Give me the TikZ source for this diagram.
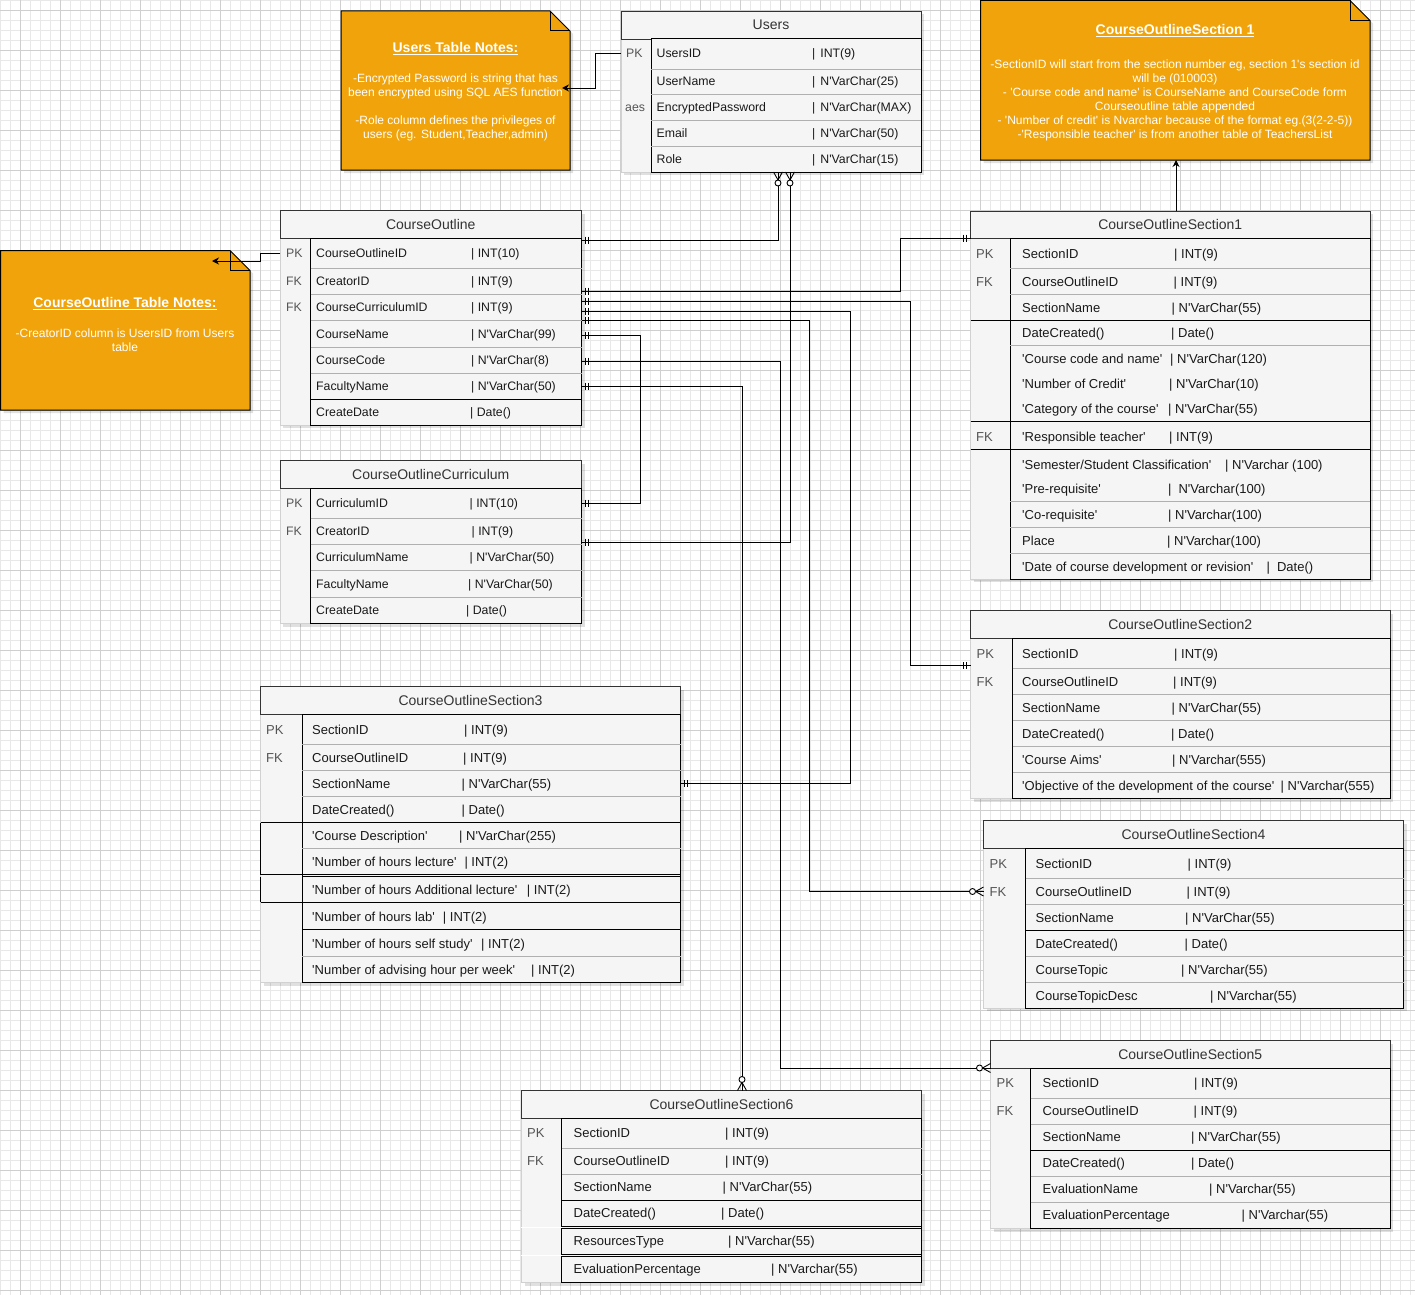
\documentclass[tikz,border=0pt]{standalone}
\usepackage{fontspec}
\newfontfamily\arialf{Liberation Sans}
\usetikzlibrary{arrows.meta}
\definecolor{notebg}{HTML}{F0A30A}
\definecolor{tblfill}{HTML}{F5F5F5}
\definecolor{hdrcol}{HTML}{333333}
\definecolor{keycol}{HTML}{555555}
\definecolor{sepcol}{HTML}{B0B0B0}
\definecolor{gminor}{HTML}{E8E8E8}
\definecolor{gmajor}{HTML}{CFCFCF}
\newcounter{rn}
\tikzset{
  rowA/.style={font=\arialf\fontsize{12.3}{14}\selectfont, text=black!90, inner sep=0pt, anchor=west, text height=8.8pt, text depth=0pt},
  rowB/.style={font=\arialf\fontsize{13}{15}\selectfont, text=black!90, inner sep=0pt, anchor=west, text height=9.3pt, text depth=0pt},
  rowtext/.style={rowA},
  keytext/.style={rowtext, text=keycol},
  hdrtext/.style={font=\arialf\fontsize{14}{16}\selectfont, text=hdrcol, inner sep=0pt, text height=10pt, text depth=0pt},
  notetitle/.style={font=\arialf\bfseries\fontsize{14}{16}\selectfont, text=white, inner sep=0pt},
  notebody/.style={font=\arialf\fontsize{12}{14}\selectfont, text=white, inner sep=0pt, align=center},
  noteshape/.style={fill=notebg, draw=black, line width=1pt, line join=miter},
  conn/.style={draw=black, line width=1pt},
  erd/.style={draw=black, line width=0.9pt},
  noteconn/.style={draw=black, line width=0.9pt, -{Stealth[length=7pt,width=7pt]}},
  tblborder/.style={draw=black!80, line width=0.9pt},
  bodyborder/.style={draw=black, line width=1pt},
  sepg/.style={draw=sepcol, line width=0.9pt},
  sepb/.style={draw=black, line width=1pt},
  keyedge/.style={draw=black!18, line width=0.8pt},
  shadowfill/.style={fill=black, opacity=0.12},
  gridminor/.style={draw=gminor, line width=0.7pt},
  gridmajor/.style={draw=gmajor, line width=0.7pt},
  oneR/.pic={\draw[erd] (4,-3.5) -- (4,3.5) (7,-3.5) -- (7,3.5);},
  oneL/.pic={\draw[erd] (-4,-3.5) -- (-4,3.5) (-7,-3.5) -- (-7,3.5);},
  zmL/.pic={\draw[erd] (0,-4.5) -- (-8,0) -- (0,4.5); \draw[erd, fill=white] (-11,0) circle[radius=3pt];},
  zmU/.pic={\draw[erd] (-4.5,0) -- (0,8) -- (4.5,0); \draw[erd, fill=white] (0,11) circle[radius=3pt];},
  zmD/.pic={\draw[erd] (-4.5,0) -- (0,-8) -- (4.5,0); \draw[erd, fill=white] (0,-11) circle[radius=3pt];},
}
% name, x1, x2, xkey, ytop, yhead, ybot, title
\newcommand\erdtable[8]{%
  \fill[shadowfill] ({#2+3},{#5+3}) rectangle ({#3+3},{#7+3});
  \fill[tblfill] (#2,#6) rectangle (#4,#7);
  \draw[keyedge] (#2,#6) -- (#2,#7) -- (#4,#7);
  \node[tblborder, fill=tblfill, inner sep=0pt, outer sep=0pt, anchor=north west, minimum width={(#3-#2)*1pt}, minimum height={(#6-#5)*1pt}] (#1) at (#2,#5) {};
  \node[hdrtext] (#1-t) at ({(#2+#3)/2},{(#5+#6)/2}) {#8};
  \node[bodyborder, fill=tblfill, inner sep=0pt, outer sep=0pt, anchor=north west, minimum width={(#3-#4)*1pt}, minimum height={(#7-#6)*1pt}] (#1-b) at (#4,#6) {};
}
\newcommand\sepG[3]{\draw[sepg] (#1,#3) -- (#2,#3);}
\newcommand\sepB[3]{\draw[sepb] (#1,#3) -- (#2,#3);}
\newcommand\rowe[5]{\stepcounter{rn}\node[rowtext] (r\arabic{rn}n) at (#2,#1) {#3};\node[rowtext] (r\arabic{rn}t) at (#4,#1) {#5};}
\newcommand\keyl[3]{\stepcounter{rn}\node[keytext] (k\arabic{rn}) at (#1,#2) {#3};}
% name x1 y1 x2 y2
\newcommand\drawnote[5]{%
  \fill[shadowfill] ({#2+3},{#3+3}) -- ({#4-17},{#3+3}) -- ({#4+3},{#3+23}) -- ({#4+3},{#5+3}) -- ({#2+3},{#5+3}) -- cycle;
  \filldraw[noteshape] (#2,#3) -- ({#4-20},#3) -- (#4,{#3+20}) -- (#4,#5) -- (#2,#5) -- cycle;
  \draw[noteshape, fill=none] ({#4-20},#3) -- ({#4-20},{#3+20}) -- (#4,{#3+20});
  \node[inner sep=0pt, outer sep=0pt, anchor=north west, minimum width={(#4-#2)*1pt}, minimum height={(#5-#3)*1pt}] (#1) at (#2,#3) {};
}
\begin{document}
\begin{tikzpicture}[x=1pt,y=-1pt]
\fill[white] (0,0) rectangle (1415,1295);
\useasboundingbox (0,0) rectangle (1415,1295);
% grid
\foreach \gx in {0,10,...,1410} {\draw[gridminor] (\gx,0) -- (\gx,1295);}
\foreach \gy in {0,10,...,1290} {\draw[gridminor] (0,\gy) -- (1415,\gy);}
\foreach \gx in {20,60,...,1400} {\draw[gridmajor] (\gx,0) -- (\gx,1295);}
\foreach \gy in {10,50,...,1290} {\draw[gridmajor] (0,\gy) -- (1415,\gy);}

% ---------- notes ----------
\drawnote{unote}{341}{11}{570}{170}
\node[notetitle] (unote-t) at (455.5,48.5) {\underline{Users Table Notes:}};
\node[notebody] (unote-b) at (455.5,107) {-Encrypted Password is string that has\\been encrypted using SQL AES function\\[14pt]-Role column defines the privileges of\\users (eg. Student,Teacher,admin)};

\drawnote{s1note}{980.5}{0.5}{1370}{160}
\node[notetitle] (s1note-t) at (1175,30.5) {\underline{CourseOutlineSection 1}};
\node[notebody] (s1note-b) at (1175,100) {-SectionID will start from the section number eg, section 1's section id\\will be (010003)\\- 'Course code and name' is CourseName and CourseCode form\\Courseoutline table appended\\- 'Number of credit' is Nvarchar because of the format eg.(3(2-2-5))\\-'Responsible teacher' is from another table of TeachersList};

\drawnote{conote}{0.5}{250.5}{250}{410}
\node[notetitle] (conote-t) at (125,303.5) {\underline{CourseOutline Table Notes:}};
\node[notebody] (conote-b) at (125,340) {-CreatorID column is UsersID from Users\\table};

% ---------- Users ----------
\tikzset{rowtext/.style={rowA}}
\erdtable{users}{621}{921}{651}{11}{39}{172}{Users}
\sepG{651}{921}{69}\sepG{651}{921}{94.5}\sepG{651}{921}{120.5}\sepG{651}{921}{146.5}
\keyl{626}{53}{PK}\keyl{625}{107}{aes}
\rowe{53}{656.5}{UsersID}{812}{|\hspace{5pt}INT(9)}
\rowe{81}{656.5}{UserName}{812}{|\hspace{5pt}N'VarChar(25)}
\rowe{107}{656.5}{EncryptedPassword}{812}{|\hspace{5pt}N'VarChar(MAX)}
\rowe{133}{656.5}{Email}{812}{|\hspace{5pt}N'VarChar(50)}
\rowe{159}{656.5}{Role}{812}{|\hspace{5pt}N'VarChar(15)}

% ---------- CourseOutline ----------
\erdtable{co}{280}{581.5}{310.5}{210.5}{238}{425}{CourseOutline}
\sepG{310.5}{581.5}{268.5}\sepG{310.5}{581.5}{294.5}\sepG{310.5}{581.5}{320.5}\sepG{310.5}{581.5}{347}\sepG{310.5}{581.5}{373}
\sepB{310.5}{581.5}{399.5}
\keyl{286}{253}{PK}\keyl{286}{281}{FK}\keyl{286}{307}{FK}
\rowe{253}{316}{CourseOutlineID}{471}{| INT(10)}
\rowe{281}{316}{CreatorID}{471}{| INT(9)}
\rowe{307}{316}{CourseCurriculumID}{471}{| INT(9)}
\rowe{334}{316}{CourseName}{471}{| N'VarChar(99)}
\rowe{360}{316}{CourseCode}{471}{| N'VarChar(8)}
\rowe{386}{316}{FacultyName}{471}{| N'VarChar(50)}
\rowe{412}{316}{CreateDate}{470}{| Date()}

% ---------- CourseOutlineCurriculum ----------
\erdtable{cur}{280}{581.5}{310.5}{460.5}{488}{623.5}{CourseOutlineCurriculum}
\sepG{310.5}{581.5}{518.5}\sepG{310.5}{581.5}{544.5}\sepG{310.5}{581.5}{570.5}\sepG{310.5}{581.5}{597}
\keyl{286}{503}{PK}\keyl{286}{531}{FK}
\rowe{503}{316}{CurriculumID}{469.5}{| INT(10)}
\rowe{531}{316}{CreatorID}{471.5}{| INT(9)}
\rowe{557}{316}{CurriculumName}{469.5}{| N'VarChar(50)}
\rowe{584}{316}{FacultyName}{468}{| N'VarChar(50)}
\rowe{610}{316}{CreateDate}{466}{| Date()}

% ---------- Section1 ----------
\tikzset{rowtext/.style={rowB}}
\erdtable{s1}{970.5}{1370}{1010}{211}{238.5}{579}{CourseOutlineSection1}
\sepG{1010}{1370}{268.5}\sepG{1010}{1370}{294.5}\sepB{970.5}{1370}{320.5}\sepG{1010}{1370}{345.5}
\sepB{970.5}{1370}{421.5}\sepB{970.5}{1370}{449.5}
\sepG{1010}{1370}{501.5}\sepG{1010}{1370}{527.5}\sepG{1010}{1370}{553.5}
\keyl{976}{254}{PK}\keyl{976}{282}{FK}\keyl{976}{436.5}{FK}
\rowe{254}{1022}{SectionID}{1174}{| INT(9)}
\rowe{282}{1022}{CourseOutlineID}{1173.5}{| INT(9)}
\rowe{307.5}{1022}{SectionName}{1171.5}{| N'VarChar(55)}
\rowe{332.5}{1022}{DateCreated()}{1171}{| Date()}
\rowe{358.5}{1022}{'Course code and name'}{1170}{| N'VarChar(120)}
\rowe{383.5}{1022}{'Number of Credit'}{1169}{| N'VarChar(10)}
\rowe{408.5}{1022}{'Category of the course'}{1168}{| N'VarChar(55)}
\rowe{436.5}{1022}{'Responsible teacher'}{1169}{| INT(9)}
\rowe{464.5}{1022}{'Semester/Student Classification'}{1225}{| N'Varchar (100)}
\rowe{488.5}{1022}{'Pre-requisite'}{1168}{|\hspace{7pt}N'Varchar(100)}
\rowe{514.5}{1022}{'Co-requisite'}{1168}{| N'Varchar(100)}
\rowe{540.5}{1022}{Place}{1167}{| N'Varchar(100)}
\rowe{566.5}{1022}{'Date of course development or revision'}{1266.5}{|\hspace{7pt}Date()}

% ---------- Section2 ----------
\erdtable{s2}{970.5}{1390}{1012.5}{610.5}{638.5}{798.5}{CourseOutlineSection2}
\sepG{1012.5}{1390}{668.5}\sepG{1012.5}{1390}{694.5}\sepG{1012.5}{1390}{720.5}\sepG{1012.5}{1390}{746.5}\sepG{1012.5}{1390}{772.5}
\keyl{976.5}{653.5}{PK}\keyl{976.5}{681.5}{FK}
\rowe{653.5}{1022}{SectionID}{1174}{| INT(9)}
\rowe{681.5}{1022}{CourseOutlineID}{1173}{| INT(9)}
\rowe{707.5}{1022}{SectionName}{1171.5}{| N'VarChar(55)}
\rowe{733.5}{1022}{DateCreated()}{1171}{| Date()}
\rowe{759.5}{1022}{'Course Aims'}{1172}{| N'Varchar(555)}
\rowe{785.5}{1022}{'Objective of the development of the course'}{1280.5}{| N'Varchar(555)}

% ---------- Section3 ----------
\erdtable{s3}{260.5}{680.5}{302}{686.5}{714.5}{982.5}{CourseOutlineSection3}
\sepG{302}{680.5}{744.5}\sepG{302}{680.5}{770.5}\sepG{302}{680.5}{796.5}
\sepB{260.5}{680.5}{822.5}\sepG{302}{680.5}{848.5}\sepB{260.5}{680.5}{874.5}\sepB{302}{680.5}{876.5}
\sepB{260.5}{680.5}{902}\sepB{302}{680.5}{929.5}\sepG{302}{680.5}{956.5}
\draw[sepb] (260.5,822.5) -- (260.5,874.5) (260.5,876.5) -- (260.5,902);
\keyl{266}{730}{PK}\keyl{266}{757.5}{FK}
\rowe{730}{312}{SectionID}{464}{| INT(9)}
\rowe{757.5}{312}{CourseOutlineID}{463}{| INT(9)}
\rowe{783.5}{312}{SectionName}{461.5}{| N'VarChar(55)}
\rowe{809.5}{312}{DateCreated()}{461.5}{| Date()}
\rowe{835.5}{312}{'Course Description'}{459}{| N'VarChar(255)}
\rowe{861.5}{312}{'Number of hours lecture'}{464.3}{| INT(2)}
\rowe{889.5}{312}{'Number of hours Additional lecture'}{526.7}{| INT(2)}
\rowe{916.5}{312}{'Number of hours lab'}{442.7}{| INT(2)}
\rowe{943.5}{312}{'Number of hours self study'}{481}{| INT(2)}
\rowe{969.5}{312}{'Number of advising hour per week'}{531}{| INT(2)}

% ---------- Section4 ----------
\erdtable{s4}{983.5}{1403.5}{1025.5}{820.5}{848.5}{1008}{CourseOutlineSection4}
\sepG{1025.5}{1403.5}{878.5}\sepG{1025.5}{1403.5}{904.5}\sepB{1025.5}{1403.5}{930.5}\sepG{1025.5}{1403.5}{956.5}\sepG{1025.5}{1403.5}{982.5}
\keyl{989.5}{864}{PK}\keyl{989.5}{891.5}{FK}
\rowe{864}{1035.5}{SectionID}{1187.5}{| INT(9)}
\rowe{891.5}{1035.5}{CourseOutlineID}{1186.5}{| INT(9)}
\rowe{917.5}{1035.5}{SectionName}{1185}{| N'VarChar(55)}
\rowe{943.5}{1035.5}{DateCreated()}{1184.5}{| Date()}
\rowe{969.5}{1035.5}{CourseTopic}{1181}{| N'Varchar(55)}
\rowe{995.5}{1035.5}{CourseTopicDesc}{1210}{| N'Varchar(55)}

% ---------- Section5 ----------
\erdtable{s5}{990.5}{1390}{1030.5}{1040.5}{1068.5}{1228.5}{CourseOutlineSection5}
\sepG{1030.5}{1390}{1098.5}\sepG{1030.5}{1390}{1124.5}\sepB{1030.5}{1390}{1150.5}\sepG{1030.5}{1390}{1176.5}\sepG{1030.5}{1390}{1202.5}
\keyl{996.5}{1083}{PK}\keyl{996.5}{1111}{FK}
\rowe{1083}{1042.5}{SectionID}{1194}{| INT(9)}
\rowe{1111}{1042.5}{CourseOutlineID}{1193.5}{| INT(9)}
\rowe{1137}{1042.5}{SectionName}{1191}{| N'VarChar(55)}
\rowe{1163}{1042.5}{DateCreated()}{1191}{| Date()}
\rowe{1189}{1042.5}{EvaluationName}{1209}{| N'Varchar(55)}
\rowe{1215}{1042.5}{EvaluationPercentage}{1241.5}{| N'Varchar(55)}

% ---------- Section6 ----------
\erdtable{s6}{521.5}{921.5}{561.5}{1090.5}{1118.5}{1282.5}{CourseOutlineSection6}
\sepG{561.5}{921.5}{1148.5}\sepG{561.5}{921.5}{1174.5}\sepB{561.5}{921.5}{1200.5}
\fill[white] (521,1227.2) rectangle (561.5,1227.8);
\fill[white] (521,1255.2) rectangle (561.5,1255.8);
\sepB{561.5}{921.5}{1226.5}\sepB{561.5}{921.5}{1228.5}\sepB{561.5}{921.5}{1254.5}\sepB{561.5}{921.5}{1256.5}
\keyl{527}{1133}{PK}\keyl{527}{1161}{FK}
\rowe{1133}{573.5}{SectionID}{725}{| INT(9)}
\rowe{1161}{573.5}{CourseOutlineID}{725}{| INT(9)}
\rowe{1187}{573.5}{SectionName}{722.5}{| N'VarChar(55)}
\rowe{1213}{573.5}{DateCreated()}{721}{| Date()}
\rowe{1241}{573.5}{ResourcesType}{728}{| N'Varchar(55)}
\rowe{1269}{573.5}{EvaluationPercentage}{771}{| N'Varchar(55)}

% ---------- note connectors ----------
\coordinate (unote-in) at (562,88);
\coordinate (conote-in) at (212,261);
\draw[noteconn] (users.west |- 0,53) -- (595,53) -- (595,88) -- (unote-in);
\draw[noteconn] (co.west |- 0,253) -- (260,253) -- (260,261) -- (conote-in);
\draw[noteconn] (s1.north -| 1176,0) -- (s1note.south -| 1176,0);

% ---------- relationships ----------
\draw[conn] (co-b.east |- 0,240) -| (users-b.south -| 778,0);
\draw[conn] (cur-b.east |- 0,542) -| (users-b.south -| 790,0);
\draw[conn] (co-b.east |- 0,291) -| (900,238) -- (s1.west |- 0,238);
\draw[conn] (co-b.east |- 0,301) -| (910.5,665.5) -- (s2.west |- 0,665.5);
\draw[conn] (co-b.east |- 0,311) -| (850,783.5) -- (s3-b.east |- 0,783.5);
\draw[conn] (co-b.east |- 0,320) -| (809.5,891.5) -- (s4.west |- 0,891.5);
\draw[conn] (co-b.east |- 0,335) -| (640.5,503) -- (cur-b.east |- 0,503);
\draw[conn] (co-b.east |- 0,361) -| (780,1068) -- (s5.west |- 0,1068);
\draw[conn] (co-b.east |- 0,386) -| (s6.north -| 742,0);

% end markers
\pic at (co-b.east |- 0,240) {oneR};
\pic at (users-b.south -| 778,0) {zmU};
\pic at (cur-b.east |- 0,542) {oneR};
\pic at (users-b.south -| 790,0) {zmU};
\pic at (co-b.east |- 0,291) {oneR};
\pic at (s1.west |- 0,238) {oneL};
\pic at (co-b.east |- 0,301) {oneR};
\pic at (s2.west |- 0,665.5) {oneL};
\pic at (co-b.east |- 0,311) {oneR};
\pic at (s3-b.east |- 0,783.5) {oneR};
\pic at (co-b.east |- 0,320) {oneR};
\pic at (s4.west |- 0,891.5) {zmL};
\pic at (co-b.east |- 0,335) {oneR};
\pic at (cur-b.east |- 0,503) {oneR};
\pic at (co-b.east |- 0,361) {oneR};
\pic at (s5.west |- 0,1068) {zmL};
\pic at (co-b.east |- 0,386) {oneR};
\pic at (s6.north -| 742,0) {zmD};
\end{tikzpicture}
\end{document}
